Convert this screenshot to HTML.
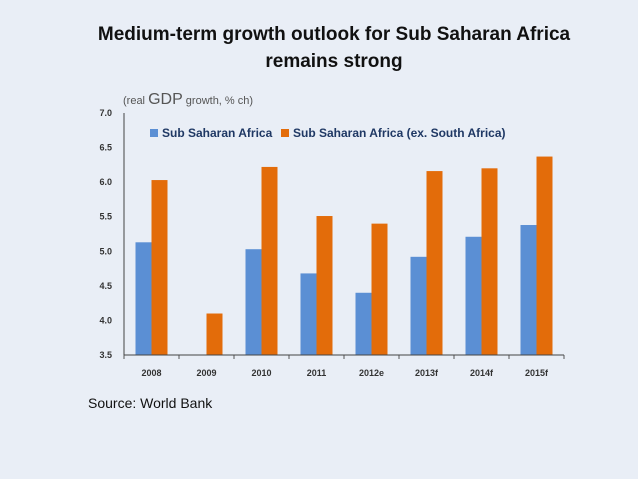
<!DOCTYPE html>
<html><head><meta charset="utf-8"><style>
body{margin:0;background:#e9eef6;}
svg{display:block;font-family:"Liberation Sans",sans-serif;}
</style></head><body>
<svg id="c" width="638" height="479">
<rect width="638" height="479" fill="#e9eef6"/>
<text x="334" y="40" text-anchor="middle" font-size="19" font-weight="bold" fill="#111">Medium-term growth outlook for Sub Saharan Africa</text>
<text x="334" y="67" text-anchor="middle" font-size="19" font-weight="bold" fill="#111">remains strong</text>
<text x="123" y="104" font-size="11" fill="#555">(real <tspan font-size="16">GDP</tspan> growth, % ch)</text>
<rect x="150" y="129" width="8" height="8" fill="#5b8fd4"/>
<text x="162" y="137" font-size="12" font-weight="bold" fill="#1f3864">Sub Saharan Africa</text>
<rect x="281" y="129" width="8" height="8" fill="#e36c0a"/>
<text x="293" y="137" font-size="12" font-weight="bold" fill="#1f3864">Sub Saharan Africa (ex. South Africa)</text>
<text x="88" y="408" font-size="14" fill="#111">Source: World Bank</text>
<g id="plot"></g>
</svg>
<script>
const categories=["2008","2009","2010","2011","2012e","2013f","2014f","2015f"];
const ssa=[5.13,null,5.03,4.68,4.4,4.92,5.21,5.38];
const exSA=[6.03,4.1,6.22,5.51,5.4,6.16,6.2,6.37];
const yTicks=[3.5,4.0,4.5,5.0,5.5,6.0,6.5,7.0];
const ns="http://www.w3.org/2000/svg";
const g=document.getElementById('plot');
const x0=124,x1=564,yB=355,yT=113,vMin=3.5,vMax=7.0;
const y=v=>yB-(v-vMin)/(vMax-vMin)*(yB-yT);
const band=(x1-x0)/categories.length;
const xc=i=>x0+band*(i+0.5);
function mk(t,a){const e=document.createElementNS(ns,t);for(const k in a)e.setAttribute(k,a[k]);g.appendChild(e);return e;}
yTicks.forEach(v=>{
 const t=mk('text',{x:112,y:y(v)+3,'text-anchor':'end','font-size':9,'font-weight':'bold',fill:'#333'});
 t.textContent=v.toFixed(1);
 
 
});
categories.forEach((c,i)=>{
 if(ssa[i]!=null){const b=mk('rect',{x:xc(i)-16,y:y(ssa[i]),width:16,height:yB-y(ssa[i]),fill:'#5b8fd4'});
 
 }
 const o=mk('rect',{x:xc(i),y:y(exSA[i]),width:16,height:yB-y(exSA[i]),fill:'#e36c0a'});
 
 
 const t=mk('text',{x:xc(i),y:376,'text-anchor':'middle','font-size':9,'font-weight':'bold',fill:'#333'});
 t.textContent=c;
 
 
});
for(let i=0;i<=categories.length;i++){const tk=mk('line',{x1:x0+band*i,x2:x0+band*i,y1:yB,y2:yB+4,stroke:'#555'});
 
 }
const ax=mk('line',{x1:x0,x2:x0,y1:yT,y2:yB,stroke:'#444'});


const bx=mk('line',{x1:x0,x2:x1,y1:yB,y2:yB,stroke:'#444'});


</script>
</body></html>
